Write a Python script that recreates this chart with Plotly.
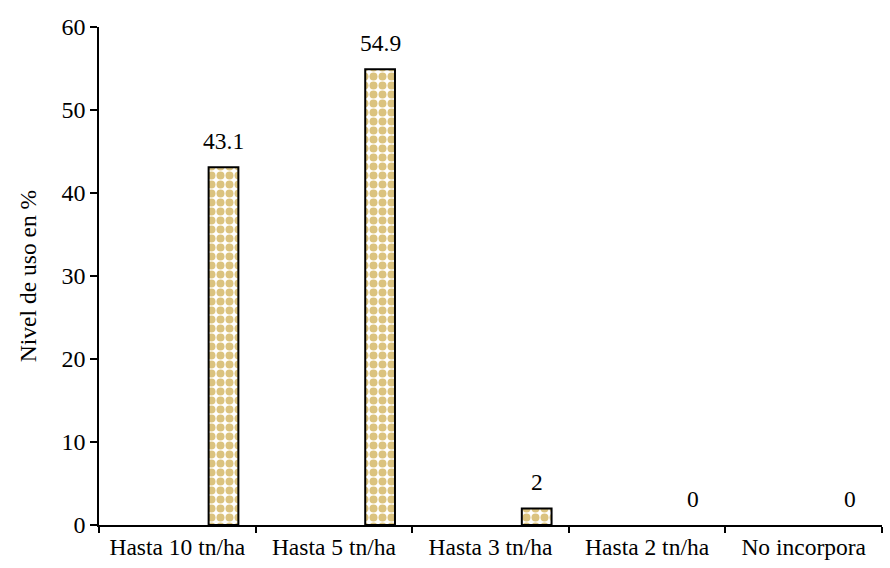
import plotly.graph_objects as go

categories = ["Hasta 10 tn/ha", "Hasta 5 tn/ha", "Hasta 3 tn/ha", "Hasta 2 tn/ha", "No incorpora"]
values = [43.1, 54.9, 2, 0, 0]
labels = ["43.1", "54.9", "2", "0", "0"]

FONT = "Liberation Serif"
BAR_OFFSET = 0.2   # left edge of each bar, in category units from the centre
BAR_WIDTH = 0.19

fig = go.Figure(
    go.Bar(
        x=categories,
        y=values,
        offset=BAR_OFFSET,
        width=BAR_WIDTH,
        marker=dict(
            color="white",
            line=dict(color="black", width=[2 if v > 0 else 0 for v in values]),
            pattern=dict(shape=".", fgcolor="#B88700", bgcolor="white",
                         size=9, solidity=0.62, fillmode="overlay"),
        ),
    )
)

# value labels above each bar
for i, (v, t) in enumerate(zip(values, labels)):
    fig.add_annotation(
        x=i + BAR_OFFSET + BAR_WIDTH / 2,
        y=v,
        text=t,
        showarrow=False,
        yanchor="bottom",
        yshift=11,
        font=dict(family=FONT, size=23.5, color="black"),
    )

fig.update_layout(
    width=890,
    height=568,
    margin=dict(l=99, r=8, t=27, b=39),
    paper_bgcolor="white",
    plot_bgcolor="white",
    showlegend=False,
    font=dict(family=FONT, color="black"),
)

fig.update_xaxes(
    type="category",
    showline=True,
    linecolor="black",
    linewidth=1.5,
    ticks="outside",
    tickson="boundaries",
    ticklen=6,
    tickcolor="black",
    tickwidth=1.5,
    tickfont=dict(family=FONT, size=23.5, color="black"),
    showgrid=False,
)

fig.update_yaxes(
    range=[0, 60],
    dtick=10,
    showline=True,
    linecolor="black",
    linewidth=1.5,
    ticks="outside",
    ticklen=7,
    tickcolor="black",
    tickwidth=1.5,
    tickfont=dict(family=FONT, size=24, color="black"),
    showgrid=False,
    zeroline=False,
    title=dict(text="Nivel de uso en %", font=dict(family=FONT, size=23.5, color="black"), standoff=18),
)

fig.write_html("out.html")
